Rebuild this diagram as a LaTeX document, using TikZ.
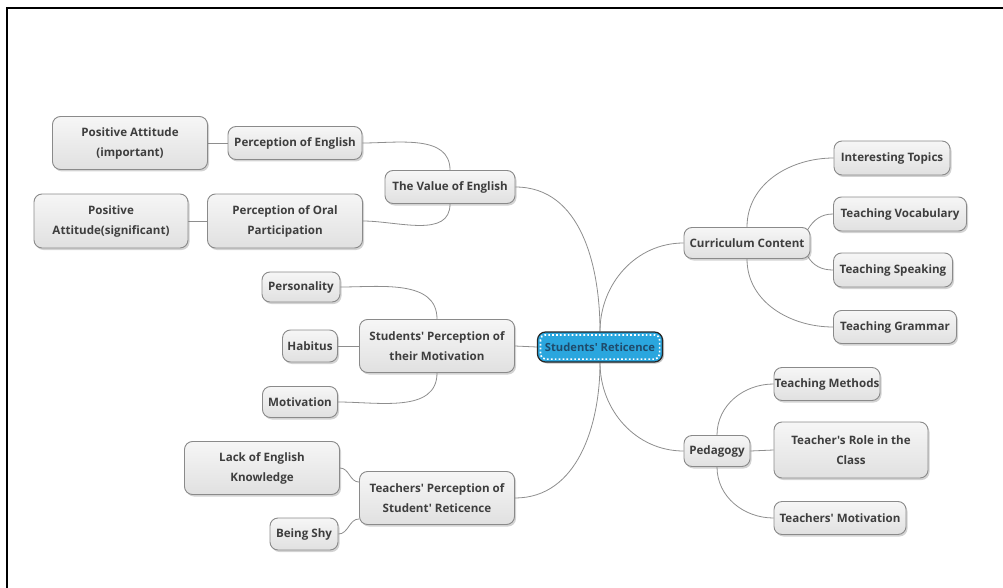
\documentclass[tikz,border=0pt]{standalone}
\usepackage{fontspec}
\newfontfamily\mapfont{Open Sans}
\usepackage{tikz}
\usetikzlibrary{shadows,backgrounds}
\definecolor{linegray}{HTML}{8E8E8E}
\definecolor{boxline}{HTML}{8A8A8A}
\definecolor{txtgray}{HTML}{3E3E3E}
\definecolor{rootblue}{HTML}{2AA6DE}
\definecolor{roottext}{HTML}{1F4B6B}
\tikzset{
% Node styles for the mind map: central topic and gray topics
central node/.style={rounded corners=8pt,draw=black!85,line width=1.2pt,fill=rootblue,
  text=roottext,font=\mapfont\bfseries\fontsize{11.2}{20}\selectfont,inner sep=0pt,
  minimum height=30pt,drop shadow={shadow xshift=1.5pt,shadow yshift=-1.5pt,opacity=.45}},
topic node/.style={rounded corners=8pt,draw=boxline,line width=0.9pt,top color=gray!7,
  bottom color=gray!24,text=txtgray,font=\mapfont\bfseries\fontsize{11.6}{20}\selectfont,
  inner sep=0pt,align=center,minimum height=33pt,
  drop shadow={shadow xshift=1.5pt,shadow yshift=-2pt,opacity=.35}},
branch/.style={draw=linegray,line width=0.8pt}
}

\begin{document}
\begin{tikzpicture}[x=1pt,y=-1pt]
  \useasboundingbox (0,0) rectangle (1003,588);
  % Frame
  \draw[line width=1.5pt] (7,588) -- (7,8) -- (1003,8);
  % Central topic
  \node(root)[central node,minimum width=125pt] at (600,347) {Students' Reticence};
  \draw[white,line width=1.7pt,dash pattern=on 1.7pt off 2.2pt,rounded corners=5pt]
    ([shift={(3.5pt,-3.5pt)}]root.north west) rectangle ([shift={(-3.5pt,3.5pt)}]root.south east);
  % Left side
  \node(val)[topic node,minimum width=130pt] at (450,187) {The Value of English};
  \node(poe)[topic node,minimum width=134pt] at (295,143) {Perception of English};
  \node(pa1)[topic node,minimum width=155pt,minimum height=53pt] at (130,143) {Positive Attitude\\(important)};
  \node(pop)[topic node,minimum width=155pt,minimum height=54pt] at (285,221) {Perception of Oral\\Participation};
  \node(pa2)[topic node,minimum width=154pt,minimum height=54pt] at (111,221) {Positive\\Attitude(significant)};
  \node(spm)[topic node,minimum width=155pt,minimum height=53pt] at (437,346) {Students' Perception of\\their Motivation};
  \node(pers)[topic node,minimum width=78pt,minimum height=30pt] at (301,287) {Personality};
  \node(hab)[topic node,minimum width=55pt,minimum height=32pt] at (310,346) {Habitus};
  \node(motv)[topic node,minimum width=75pt,minimum height=31pt] at (300,402) {Motivation};
  \node(tpr)[topic node,minimum width=155pt,minimum height=53pt] at (437,498) {Teachers' Perception of\\Student' Reticence};
  \node(lack)[topic node,minimum width=155pt,minimum height=53pt] at (262,468) {Lack of English\\Knowledge};
  \node(shy)[topic node,minimum width=68pt,minimum height=32pt] at (304,534) {Being Shy};
  % Right side
  \node(cc)[topic node,minimum width=126pt,minimum height=31pt] at (747,243) {Curriculum Content};
  \node(it)[topic node,minimum width=116pt,minimum height=34pt] at (892,158) {Interesting Topics};
  \node(tv)[topic node,minimum width=133pt,minimum height=34pt] at (900,214) {Teaching Vocabulary};
  \node(ts)[topic node,minimum width=119pt,minimum height=34pt] at (893,270) {Teaching Speaking};
  \node(tg)[topic node,minimum width=123pt] at (895,327) {Teaching Grammar};
  \node(ped)[topic node,minimum width=66pt,minimum height=31pt] at (717,451) {Pedagogy};
  \node(tm)[topic node,minimum width=106pt] at (827,384) {Teaching Methods};
  \node(tr)[topic node,minimum width=154pt,minimum height=56pt] at (851,450) {Teacher's Role in the\\Class};
  \node(tmot)[topic node,minimum width=132pt] at (840,518) {Teachers' Motivation};
  % Connectors
  \begin{scope}[on background layer]
    \draw[branch] (val.east) to[out=0,in=90] (root.north);
    \draw[branch] (root.north) to[out=90,in=180] (cc.west);
    \draw[branch] (spm.east) -- (root.west);
    \draw[branch] (tpr.east) to[out=0,in=-90] (root.south);
    \draw[branch] (root.south) to[out=-90,in=180] (ped.west);
    \draw[branch] (val.north) to[out=90,in=0] (poe.east);
    \draw[branch] (val.south) to[out=-90,in=0] (pop.east);
    \draw[branch] (poe.west) -- (pa1.east);
    \draw[branch] (pop.west) -- (pa2.east);
    \draw[branch] (spm.north) to[out=90,in=0] (pers.east);
    \draw[branch] (spm.west) -- (hab.east);
    \draw[branch] (spm.south) to[out=-90,in=0] (motv.east);
    \draw[branch] (lack.east) to[out=0,in=180] ([yshift=-11pt]tpr.north west);
    \draw[branch] (shy.east) to[out=0,in=180] ([yshift=6pt]tpr.south west);
    \draw[branch] (cc.north) to[out=90,in=180] (it.west);
    \draw[branch] ([shift={(-3pt,-3pt)}]cc.north east) to[out=60,in=180] (tv.west);
    \draw[branch] ([shift={(-3pt,3pt)}]cc.south east) to[out=-60,in=180] (ts.west);
    \draw[branch] (cc.south) to[out=-90,in=180] (tg.west);
    \draw[branch] (ped.north) to[out=90,in=180] (tm.west);
    \draw[branch] (ped.east) -- (tr.west);
    \draw[branch] (ped.south) to[out=-90,in=180] (tmot.west);
  \end{scope}
\end{tikzpicture}
\end{document}
